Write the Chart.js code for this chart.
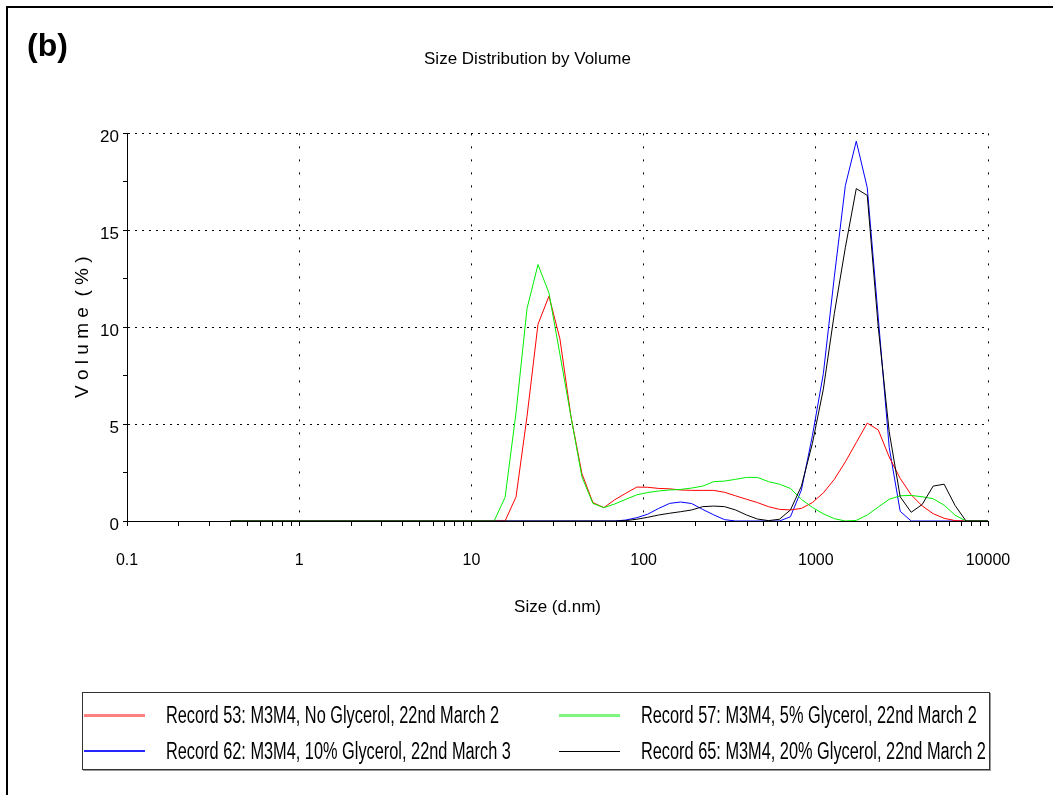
<!DOCTYPE html>
<html>
<head>
<meta charset="utf-8">
<title>Size Distribution by Volume</title>
<script src="https://cdn.jsdelivr.net/npm/chart.js@4.4.1/dist/chart.umd.min.js"></script>
<style>
  html, body { margin: 0; padding: 0; background: #fff; }
  #page {
    position: relative; width: 1053px; height: 795px; overflow: hidden;
    font-family: 'Liberation Sans', Arial, sans-serif;
  }
  #frame {
    position: absolute; left: 6px; top: 6px; width: 1060px; height: 800px;
    border-left: 2px solid #000; border-top: 2px solid #000;
  }
  #panel {
    position: absolute; left: 27px; top: 27px;
    font: bold 32px 'Liberation Sans', Arial, sans-serif;
  }
  canvas { position: absolute; left: 0; top: 0; }
  #legend {
    position: absolute; left: 82px; top: 692px; width: 906px; height: 76px;
    border: 1px solid #333; box-shadow: 1px 1px 0 #999; background: #fff;
  }
  .item { position: absolute; height: 26px; display: flex; align-items: center; white-space: nowrap; }
  .swatch { display: block; width: 61px; margin-right: 21px; }
  .label {
    display: block; font-size: 23px; color: #000;
    transform: scaleX(0.71); transform-origin: left center;
  }
</style>
</head>
<body>
<div id="page">
  <canvas id="chart" width="1053" height="795"></canvas>
  <div id="frame"></div>
  <div id="panel">(b)</div>
  <div id="legend"></div>
</div>
<script>
// Zetasizer size bins (d.nm)
const sizes = [
  0.4, 0.4632, 0.5365, 0.6213, 0.7195, 0.8332, 0.9649, 1.117, 1.294, 1.499,
  1.736, 2.010, 2.328, 2.696, 3.122, 3.615, 4.187, 4.849, 5.615, 6.503,
  7.531, 8.721, 10.10, 11.70, 13.54, 15.69, 18.17, 21.04, 24.36, 28.21,
  32.67, 37.84, 43.82, 50.75, 58.77, 68.06, 78.82, 91.28, 105.7, 122.4,
  141.8, 164.2, 190.1, 220.2, 255.0, 295.3, 342.0, 396.1, 458.7, 531.2,
  615.1, 712.4, 825.0, 955.4, 1106, 1281, 1484, 1718, 1990, 2305,
  2669, 3091, 3580, 4145, 4801, 5560, 6439, 7456, 8635, 10000
];

// Volume (%) per bin
const record53 = [
  0, 0, 0, 0, 0, 0, 0, 0, 0, 0,
  0, 0, 0, 0, 0, 0, 0, 0, 0, 0,
  0, 0, 0, 0, 0, 0, 1.25, 5.4, 10.15, 11.6,
  9.4, 5.4, 2.45, 0.95, 0.69, 1.1, 1.43, 1.75, 1.74, 1.68,
  1.66, 1.6, 1.58, 1.58, 1.58, 1.48, 1.3, 1.12, 0.95, 0.74,
  0.6, 0.57, 0.65, 0.95, 1.45, 2.15, 3.05, 4.05, 5.05, 4.7,
  3.3, 2.2, 1.35, 0.78, 0.38, 0.14, 0.02, 0, 0, 0
];
const record57 = [
  0, 0, 0, 0, 0, 0, 0, 0, 0, 0,
  0, 0, 0, 0, 0, 0, 0, 0, 0, 0,
  0, 0, 0, 0, 0, 1.22, 5.6, 10.96, 13.23, 11.77,
  8.6, 5.4, 2.28, 0.91, 0.69, 0.88, 1.12, 1.35, 1.47, 1.55,
  1.6, 1.63, 1.7, 1.8, 2.03, 2.06, 2.15, 2.25, 2.25, 2.03,
  1.9, 1.68, 1.12, 0.7, 0.37, 0.12, 0, 0.03, 0.31, 0.72,
  1.12, 1.3, 1.32, 1.25, 1.15, 0.82, 0.3, 0, 0, 0
];
const record62 = [
  0, 0, 0, 0, 0, 0, 0, 0, 0, 0,
  0, 0, 0, 0, 0, 0, 0, 0, 0, 0,
  0, 0, 0, 0, 0, 0, 0, 0, 0, 0,
  0, 0, 0, 0, 0, 0, 0.05, 0.17, 0.35, 0.65,
  0.91, 0.98, 0.9, 0.6, 0.32, 0.07, 0, 0, 0, 0,
  0, 0.22, 1.6, 4.4, 7.6, 12.6, 17.3, 19.6, 17.2, 10.5,
  3.8, 0.5, 0, 0, 0, 0, 0, 0, 0, 0
];
const record65 = [
  0, 0, 0, 0, 0, 0, 0, 0, 0, 0,
  0, 0, 0, 0, 0, 0, 0, 0, 0, 0,
  0, 0, 0, 0, 0, 0, 0, 0, 0, 0,
  0, 0, 0, 0, 0, 0, 0.02, 0.09, 0.19, 0.31,
  0.4, 0.48, 0.57, 0.74, 0.77, 0.74, 0.57, 0.31, 0.1, 0.02,
  0.09, 0.57, 1.8, 4.0, 6.8, 10.7, 14.1, 17.15, 16.8, 10.0,
  4.6, 1.25, 0.45, 0.85, 1.8, 1.9, 0.8, 0, 0, 0
];

const seriesNames = [
  'Record 53: M3M4, No Glycerol, 22nd March 2',
  'Record 57: M3M4, 5% Glycerol, 22nd March 2',
  'Record 62: M3M4, 10% Glycerol, 22nd March 3',
  'Record 65: M3M4, 20% Glycerol, 22nd March 2'
];
const seriesValues = [record53, record57, record62, record65];
const seriesColors = ['#ff0000', '#00ee00', '#0000ff', '#000000'];
const drawOrder = [2, 1, 3, 0]; // black on top, blue at the bottom

const xLabelValues = [0.1, 1, 10, 100, 1000, 10000];
const yMax = 20;

const FONT = "'Liberation Sans', Arial, sans-serif";
Chart.defaults.font.family = FONT;
Chart.defaults.color = '#000';

// log ticks: 1..9 in every decade, labels only on decades
const xTickValues = [];
xLabelValues.slice(0, -1).forEach(d => {
  for (let m = 1; m <= 9; m++) xTickValues.push(d * m);
});
xTickValues.push(xLabelValues[xLabelValues.length - 1]);

const datasets = seriesNames.map((name, i) => ({
  label: name,
  data: sizes.map((s, j) => ({ x: s, y: seriesValues[i][j] })),
  borderColor: seriesColors[i],
  borderWidth: 1,
  pointRadius: 0,
  tension: 0,
  fill: false,
  order: drawOrder[i]
}));

const chart = new Chart(document.getElementById('chart'), {
  type: 'line',
  data: { datasets },
  options: {
    responsive: false,
    animation: false,
    devicePixelRatio: 1,
    layout: { padding: { left: 67, right: 65, top: 0, bottom: 164 } },
    plugins: {
      legend: { display: false },
      tooltip: { enabled: false },
      title: {
        display: true,
        text: 'Size Distribution by Volume',
        font: { size: 17, weight: 'normal' },
        color: '#000',
        padding: { top: 49, bottom: 64 }
      }
    },
    scales: {
      x: {
        type: 'logarithmic',
        min: 0.1,
        max: 10000,
        afterBuildTicks: scale => {
          scale.ticks = xTickValues.map(v => ({ value: v }));
        },
        afterFit: scale => { scale.height = 110; },
        ticks: {
          autoSkip: false,
          maxRotation: 0,
          minRotation: 0,
          padding: 25,
          font: { size: 16 },
          callback: v => (xLabelValues.includes(v) ? String(v) : '')
        },
        grid: {
          color: c => (c.tick && c.tick.value > 0.1 && xLabelValues.includes(c.tick.value) ? '#000' : 'rgba(0,0,0,0)'),
          lineWidth: 1,
          tickColor: '#000',
          tickLength: 5
        },
        border: { display: true, color: '#000', width: 1, dash: [2, 11] },
        title: {
          display: true,
          text: 'Size (d.nm)',
          font: { size: 17 },
          padding: { top: 0, bottom: 13 }
        }
      },
      y: {
        type: 'linear',
        min: 0,
        max: yMax,
        afterFit: scale => { scale.width = 60; },
        ticks: {
          stepSize: 2.5,
          padding: 4,
          labelOffset: 4,
          font: { size: 17 },
          callback: v => (v % 5 === 0 ? String(v) : '')
        },
        grid: {
          color: c => (c.tick && c.tick.value > 0 && c.tick.value % 5 === 0 ? '#000' : 'rgba(0,0,0,0)'),
          lineWidth: 1,
          tickColor: '#000',
          tickLength: 4
        },
        border: { display: true, color: '#000', width: 1, dash: [2, 5] },
        title: {
          display: true,
          text: 'V o l u m e  ( % )',
          font: { size: 19 },
          padding: { top: 4, bottom: 0 }
        }
      }
    }
  }
});

// legend box: two columns, filled row by row
// in the original the red and green samples look thicker and paler, blue a bit thinner
const legendBox = document.getElementById('legend');
const colLeft = [1, 476];
const rowTop = [9, 45];
const swatchHeight = { '#ff0000': '3px', '#00ee00': '3px', '#0000ff': '2px', '#000000': '1px' };
const swatchOpacity = { '#ff0000': '0.5', '#00ee00': '0.5', '#0000ff': '0.85', '#000000': '1' };
chart.data.datasets.forEach((ds, i) => {
  const item = document.createElement('div');
  item.className = 'item';
  item.style.left = colLeft[i % 2] + 'px';
  item.style.top = rowTop[Math.floor(i / 2)] + 'px';
  const swatch = document.createElement('span');
  swatch.className = 'swatch';
  swatch.style.backgroundColor = ds.borderColor;
  swatch.style.height = swatchHeight[ds.borderColor];
  swatch.style.opacity = swatchOpacity[ds.borderColor];
  const text = document.createElement('span');
  text.className = 'label';
  text.textContent = ds.label;
  item.appendChild(swatch);
  item.appendChild(text);
  legendBox.appendChild(item);
});
</script>
</body>
</html>
